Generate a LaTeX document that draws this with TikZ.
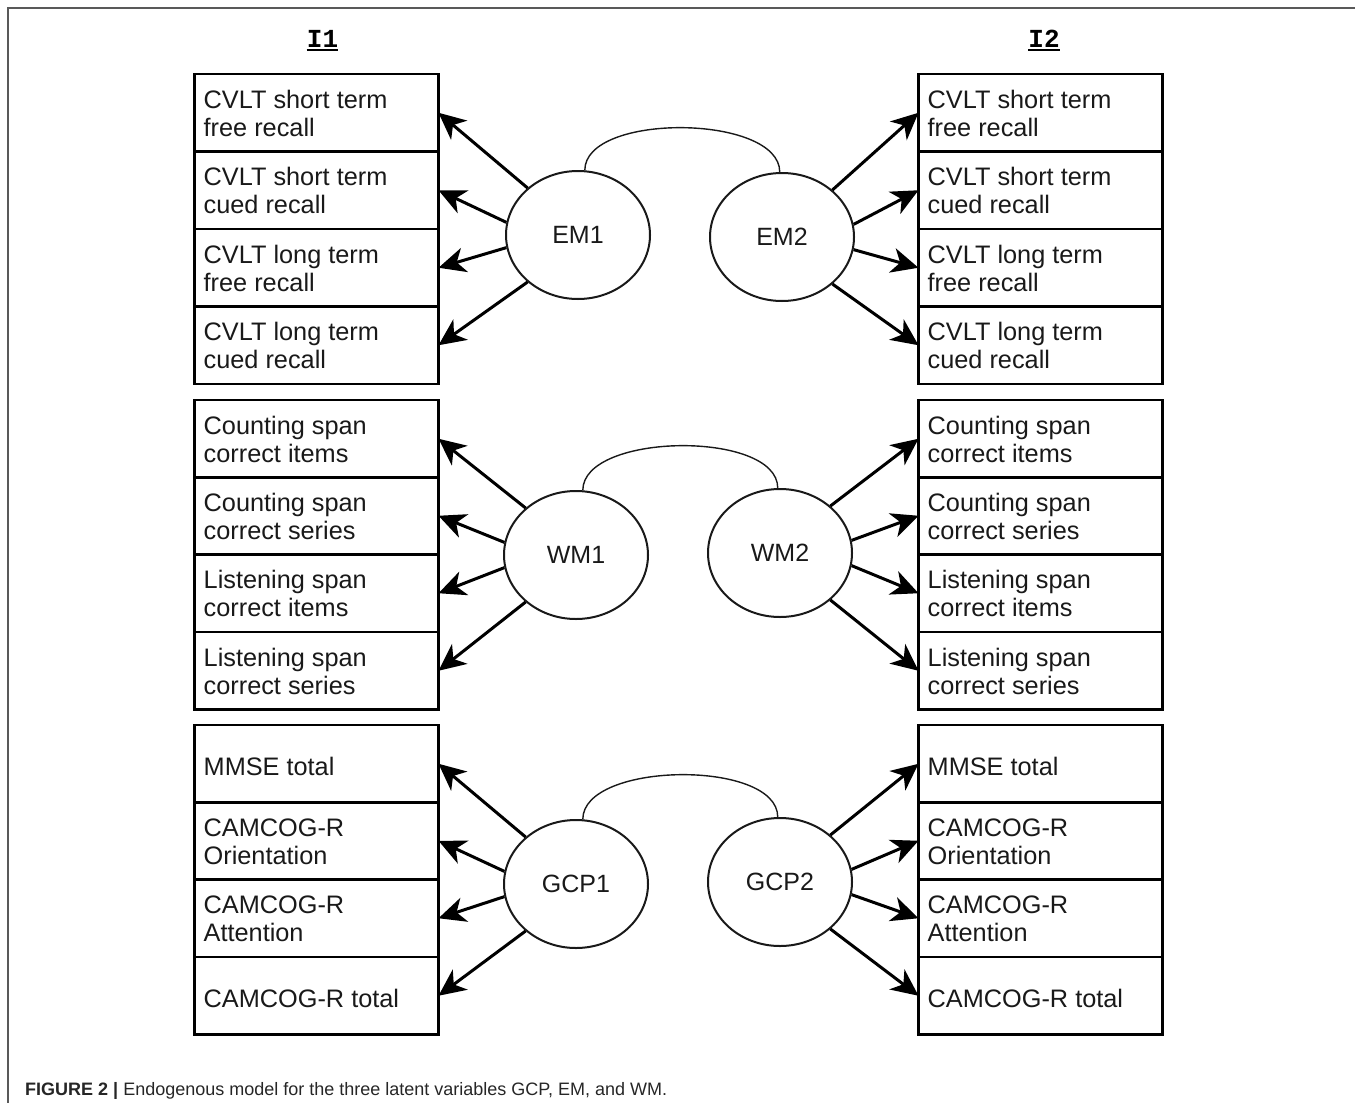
\documentclass[tikz,border=0pt]{standalone}
\usepackage{fontspec}
\setmainfont{Liberation Sans}
\newfontfamily\monofam{Liberation Mono}
\usetikzlibrary{arrows.meta,calc,shapes.geometric}

\tikzset{
  cellbox/.style={draw=black, line width=2.6pt, minimum width=244pt, minimum height=77.5pt,
    inner sep=0pt, outer sep=0pt, anchor=north west},
  celltext/.style={inner sep=0pt, anchor=base west, text=black!90,
    font=\fontsize{25.3}{28}\selectfont},
  latent/.style={ellipse, draw=black!90, line width=2pt, minimum width=144pt, minimum height=128pt,
    inner sep=0pt, text=black!90, font=\fontsize{25}{28}\selectfont},
  load/.style={line width=3pt, -{Stealth[length=27pt,width=25pt,inset=8pt]}},
  cov/.style={line width=1.4pt, black!90},
  title/.style={inner sep=0pt, anchor=base, font=\monofam\bfseries\fontsize{26}{28}\selectfont},
}

% indicator box with two text lines
\newcommand\twocell[5]{%
  \node[cellbox] (#1) at (#2,#3) {};
  \node[celltext] (#1-a) at ($(#1.north west)+(9,34)$) {#4};
  \node[celltext] (#1-b) at ($(#1.north west)+(9,62)$) {#5};
}
% indicator box with one text line
\newcommand\onecell[4]{%
  \node[cellbox] (#1) at (#2,#3) {};
  \node[celltext] (#1-a) at ($(#1.north west)+(9,50)$) {#4};
}

\begin{document}
\begin{tikzpicture}[x=1pt,y=-1pt]
\useasboundingbox (0,0) rectangle (1355,1103);

% page frame
\draw[line width=1.5pt, black!65] (8,1103) -- (8,8) -- (1355,8);

% occasion headings
\node[title] (t1) at (322.5,47) {I1};
\node[title] (t2) at (1044,47) {I2};
\draw[line width=2pt] ($(t1.base west)+(0,2.5)$) -- ($(t1.base east)+(0,2.5)$);
\draw[line width=2pt] ($(t2.base west)+(0,2.5)$) -- ($(t2.base east)+(0,2.5)$);

% ---- episodic memory indicators
\twocell{la1}{194.5}{74}{CVLT short term}{free recall}
\twocell{la2}{194.5}{151.5}{CVLT short term}{cued recall}
\twocell{la3}{194.5}{229}{CVLT long term}{free recall}
\twocell{la4}{194.5}{306.5}{CVLT long term}{cued recall}
\twocell{ra1}{918.5}{74}{CVLT short term}{free recall}
\twocell{ra2}{918.5}{151.5}{CVLT short term}{cued recall}
\twocell{ra3}{918.5}{229}{CVLT long term}{free recall}
\twocell{ra4}{918.5}{306.5}{CVLT long term}{cued recall}

% ---- working memory indicators
\twocell{lb1}{194.5}{400}{Counting span}{correct items}
\twocell{lb2}{194.5}{477}{Counting span}{correct series}
\twocell{lb3}{194.5}{554.5}{Listening span}{correct items}
\twocell{lb4}{194.5}{632}{Listening span}{correct series}
\twocell{rb1}{918.5}{400}{Counting span}{correct items}
\twocell{rb2}{918.5}{477}{Counting span}{correct series}
\twocell{rb3}{918.5}{554.5}{Listening span}{correct items}
\twocell{rb4}{918.5}{632}{Listening span}{correct series}

% ---- global cognitive performance indicators
\onecell{lc1}{194.5}{725}{MMSE total}
\twocell{lc2}{194.5}{802}{CAMCOG-R}{Orientation}
\twocell{lc3}{194.5}{879.5}{CAMCOG-R}{Attention}
\onecell{lc4}{194.5}{957}{CAMCOG-R total}
\onecell{rc1}{918.5}{725}{MMSE total}
\twocell{rc2}{918.5}{802}{CAMCOG-R}{Orientation}
\twocell{rc3}{918.5}{879.5}{CAMCOG-R}{Attention}
\onecell{rc4}{918.5}{957}{CAMCOG-R total}

% ---- latent variables
\node[latent] (EM1) at (578,235) {EM1};
\node[latent] (EM2) at (782,237) {EM2};
\node[latent] (WM1) at (576,555) {WM1};
\node[latent] (WM2) at (780,553) {WM2};
\node[latent] (GCP1) at (576,884) {GCP1};
\node[latent] (GCP2) at (780,882) {GCP2};

% ---- covariances between occasions
\foreach \a/\b in {EM1/EM2, WM1/WM2, GCP1/GCP2} {
  \draw[cov] (\a.84) .. controls ($(\a.84)+(0,-58)$) and ($(\b.92)+(0,-58)$) .. (\b.92);
}

% ---- factor loadings
\foreach \f/\g in {EM1/la, WM1/lb, GCP1/lc} {
  \draw[load] (\f.137) -- (\g1.east);
  \draw[load] (\f.170) -- (\g2.east);
  \draw[load] (\f.190) -- (\g3.east);
  \draw[load] (\f.223) -- (\g4.east);
}
\foreach \f/\g in {EM2/ra, WM2/rb, GCP2/rc} {
  \draw[load] (\f.43) -- (\g1.west);
  \draw[load] (\f.10) -- (\g2.west);
  \draw[load] (\f.-10) -- (\g3.west);
  \draw[load] (\f.-43) -- (\g4.west);
}

% caption
\node[inner sep=0pt, anchor=base west, text=black!85, font=\fontsize{18}{20}\selectfont]
  (cap) at (25,1095) {\textbf{FIGURE 2 |} Endogenous model for the three latent variables GCP, EM, and WM.};
\end{tikzpicture}
\end{document}
